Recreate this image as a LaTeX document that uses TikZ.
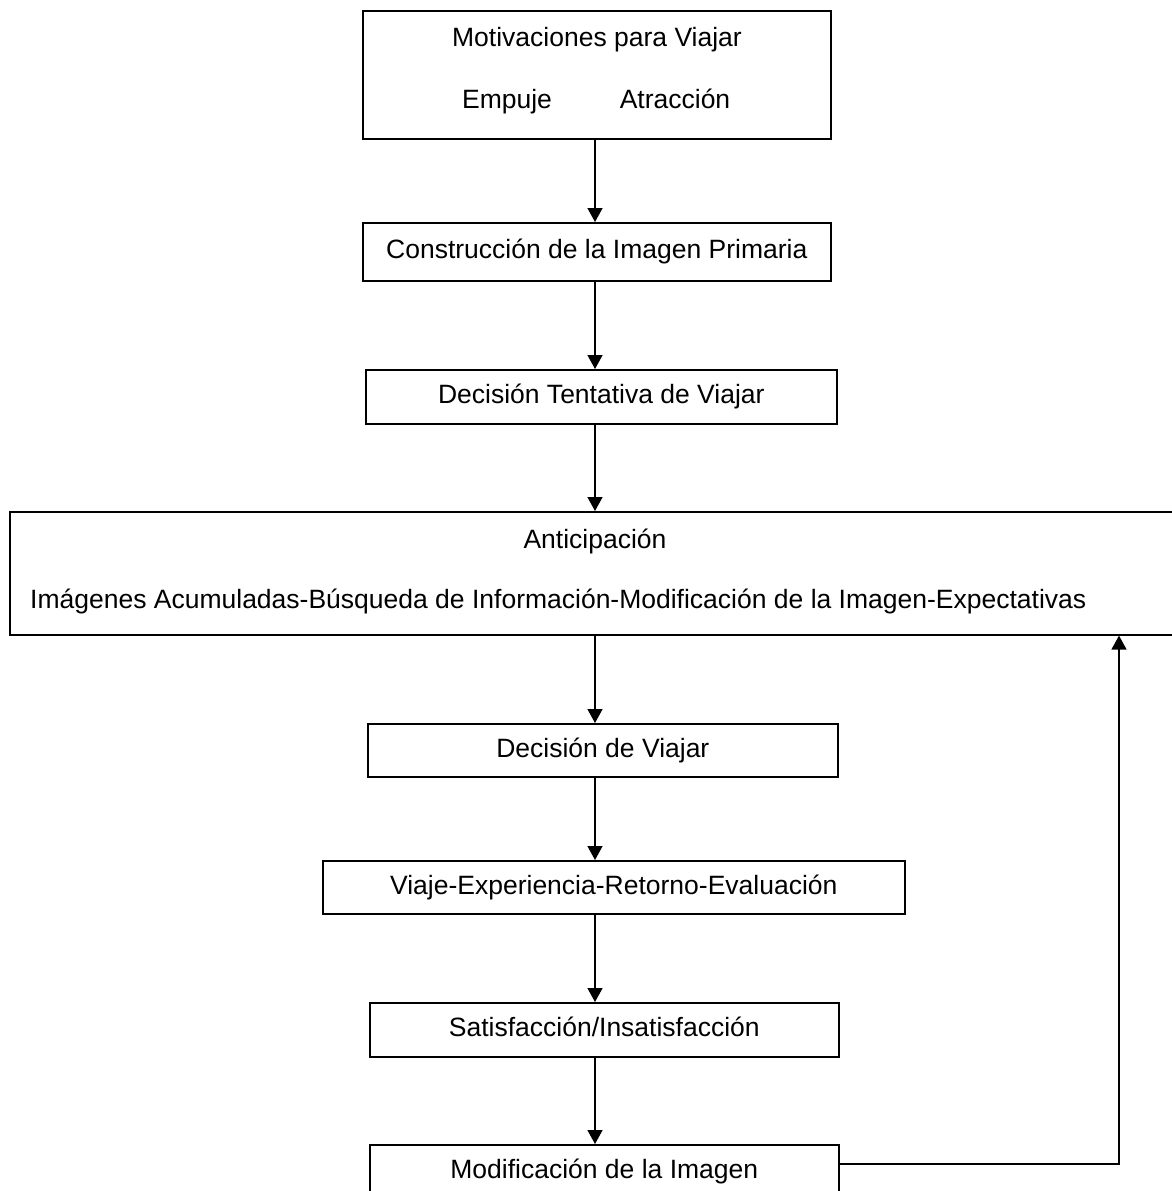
\documentclass[tikz,border=0pt]{standalone}
\usepackage{fontspec}
\setmainfont{Liberation Sans}
\usetikzlibrary{arrows.meta}
\begin{document}
\begin{tikzpicture}[x=1pt,y=-1pt,
  box/.style={draw, line width=1.6pt, inner sep=0pt, anchor=north west, text height=19pt, text depth=5pt, font=\fontsize{26.5}{30}\selectfont},
  lbl/.style={inner sep=0pt, anchor=base, font=\fontsize{26.5}{30}\selectfont},
  arr/.style={line width=1.4pt, -{Triangle[width=15pt,length=14pt]}}]
\fill[white] (0,0) rectangle (1171,1191);
\useasboundingbox (0,0) rectangle (1171,1191);
\coordinate (ax) at (595,0);
% boxes
\node[box, minimum width=468pt, minimum height=128pt] (b1) at (362,10) {};
\node[lbl] (t1a) at (597,46) {Motivaciones para Viajar};
\node[lbl] (t1b) at (507,108) {Empuje};
\node[lbl] (t1c) at (675,108) {Atracción};
\node[box, minimum width=468pt, minimum height=58pt] (b2) at (362,222) {Construcción de la Imagen Primaria};
\node[box, minimum width=471pt, minimum height=54pt] (b3) at (365,369) {Decisión Tentativa de Viajar};
\node[box, minimum width=1180pt, minimum height=123pt] (b4) at (9,511) {};
\node[lbl] (t4a) at (595,548) {Anticipación};
\node[lbl, anchor=base west] (t4b) at (30,608) {Imágenes Acumuladas-Búsqueda de Información-Modificación de la Imagen-Expectativas};
\node[box, minimum width=470pt, minimum height=53pt] (b5) at (367,723) {Decisión de Viajar};
\node[box, minimum width=582pt, minimum height=53pt] (b6) at (322,860) {Viaje-Experiencia-Retorno-Evaluación};
\node[box, minimum width=469pt, minimum height=54pt] (b7) at (369,1002) {Satisfacción/Insatisfacción};
\node[box, minimum width=469pt, minimum height=54pt] (b8) at (369,1144) {Modificación de la Imagen};
% connectors
\draw[arr] (b1.south -| ax) -- (b2.north -| ax);
\draw[arr] (b2.south -| ax) -- (b3.north -| ax);
\draw[arr] (b3.south -| ax) -- (b4.north -| ax);
\draw[arr] (b4.south -| ax) -- (b5.north -| ax);
\draw[arr] (b5.south -| ax) -- (b6.north -| ax);
\draw[arr] (b6.south -| ax) -- (b7.north -| ax);
\draw[arr] (b7.south -| ax) -- (b8.north -| ax);
\coordinate (fb) at (1119,1164);
\draw[arr] (b8.east |- fb) -- (fb) -- (fb |- b4.south);
\end{tikzpicture}
\end{document}
